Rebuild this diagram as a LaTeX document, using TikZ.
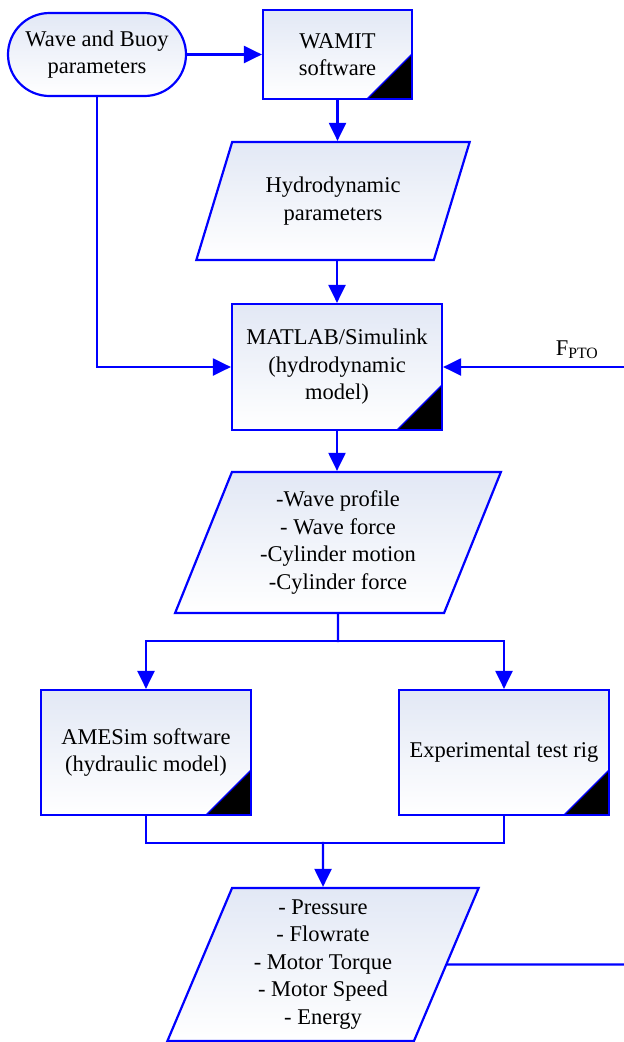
\documentclass[tikz,border=0pt]{standalone}
\usepackage{fontspec}
\setmainfont{Liberation Serif}
\usetikzlibrary{arrows.meta,
                shapes.geometric}
\definecolor{boxtop}{RGB}{226,232,245}

\begin{document}
\begin{tikzpicture}[x=1bp,y=-1bp,
  every node/.style={font=\fontsize{22.5bp}{27.5bp}\selectfont, align=center},
  box/.style={draw=blue, line width=2.2bp, top color=boxtop, bottom color=white, inner sep=0pt},
  proc/.style={box, rectangle, minimum width=210bp, minimum height=125bp,
    path picture={\filldraw[fill=black, draw=blue, line width=1.2bp]
      (path picture bounding box.south east) -- ++(-45bp,0bp)
      -- ([yshift=45bp]path picture bounding box.south east) -- cycle;}},
  data/.style={box, trapezium, trapezium stretches=true},
  term/.style={box, rectangle, rounded corners=41.5bp, minimum width=178bp, minimum height=83bp},
  wire/.style={blue, line width=2.2bp, line cap=rect},
  flow/.style={wire, -{Triangle[length=18bp,width=17bp]}}]
 \useasboundingbox (0,0) rectangle (624,1042);
 \node[term] (buoy) at (97,54.5) {Wave and Buoy\\parameters};
 \node[proc, minimum width=149bp, minimum height=89bp] (wamit) at (337.5,54.5) {WAMIT\\software};
 \node[data, trapezium left angle=63.4, trapezium right angle=116.6,
   minimum width=274bp, minimum height=118bp] (hydro) at (333,201) {Hydrodynamic\\parameters};
 \node[proc, minimum height=126bp] (matlab) at (337,367) {MATLAB/Simulink\\(hydrodynamic\\model)};
 \node[data, trapezium left angle=68, trapezium right angle=112,
   minimum width=326bp, minimum height=141bp] (outputs) at (338,542.5)
   {-Wave profile\\- Wave force\\-Cylinder motion\\-Cylinder force};
 \node[proc] (amesim) at (146,752.5) {AMESim software\\(hydraulic model)};
 \node[proc] (rig) at (504,752.5) {Experimental test rig};
 \node[data, trapezium left angle=69.2, trapezium right angle=110.8,
   minimum width=312bp, minimum height=153bp] (results) at (323,964.5)
   {- Pressure\\- Flowrate\\- Motor Torque\\- Motor Speed\\- Energy};
 \node (fptolabel) at (577,350) {F\textsubscript{PTO}};
 \coordinate (fpto) at (624,367);
 \coordinate (split) at (338,641);
 \coordinate (merge) at (323,843);
 \coordinate (out) at (624,964.5);

 \draw[flow] (buoy) -- (wamit);
 \draw[flow] (wamit.south) -- (wamit.south |- hydro.north);
 \draw[flow] (hydro.south -| matlab.north) -- (matlab.north);
 \draw[flow] (buoy.south) |- (matlab.west);
 \draw[flow] (fpto) -- (matlab.east);
 \draw[flow] (matlab.south) -- (matlab.south |- outputs.north);
 \draw[wire] (outputs.south) -- (split);
 \draw[flow] (split) -| (amesim.north);
 \draw[flow] (split) -| (rig.north);
 \draw[wire] (amesim.south) |- (merge);
 \draw[wire] (rig.south) |- (merge);
 \draw[flow] (merge) -- (results.north);
 \draw[wire] (results.east) -- (out);
\end{tikzpicture}
\end{document}
